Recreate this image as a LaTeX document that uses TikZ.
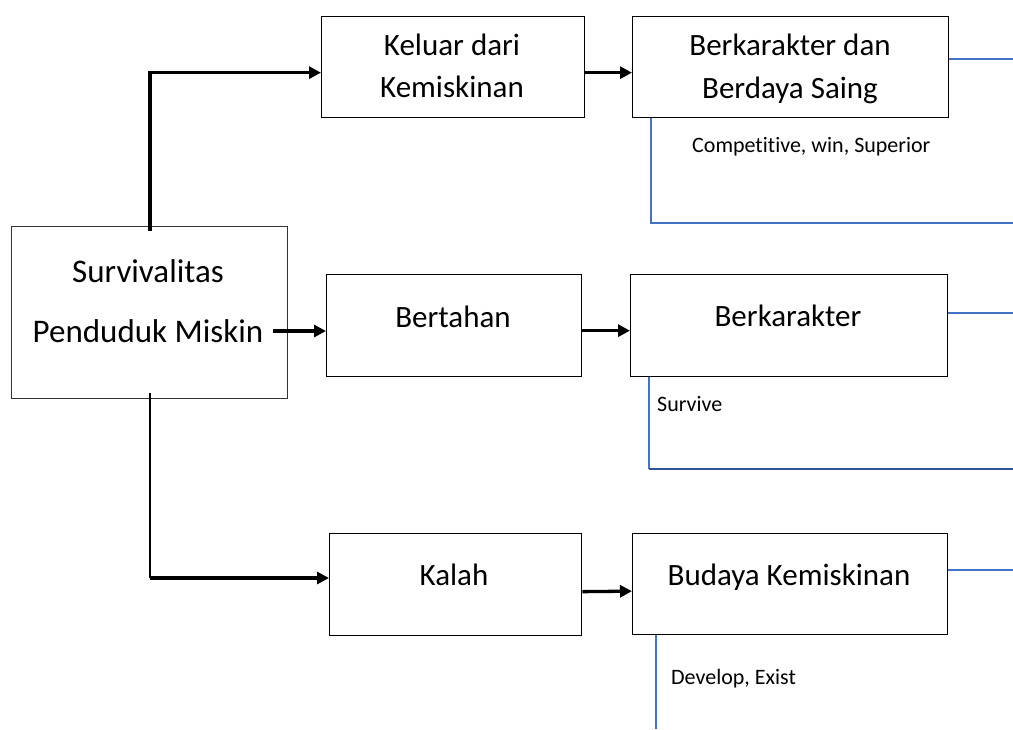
\documentclass[tikz,border=0pt]{standalone}
\usepackage{fontspec}
\setmainfont{Carlito}[Ligatures={NoCommon}]
\usetikzlibrary{arrows.meta}
\definecolor{lblue}{RGB}{68,114,196}
\definecolor{dblue}{RGB}{47,85,151}
\begin{document}
\begin{tikzpicture}[x=1pt,y=-1pt,
  box/.style={draw=black, line width=1.3pt, fill=white, inner sep=0pt, anchor=north west},
  big/.style={font=\fontsize{31}{37}\selectfont, anchor=base, inner sep=0pt},
  bigger/.style={font=\fontsize{33}{39}\selectfont, anchor=base, inner sep=0pt},
  small/.style={font=\fontsize{22}{26}\selectfont, anchor=base west, inner sep=0pt},
  flow/.style={line width=3.3pt, -{Triangle[length=12pt,width=12pt]}},
  thinline/.style={line width=1.5pt},
  bline/.style={draw=lblue, line width=1.3pt},
  bthick/.style={draw=dblue, line width=2pt}]
\useasboundingbox (0,0) rectangle (1013,729);
% blue brackets
\coordinate (e1) at (1013,59);
\coordinate (c1) at (651,117);
\coordinate (c2) at (1013,223);
\coordinate (e2) at (1013,313);
\coordinate (c3) at (649,376);
\coordinate (c4) at (1013,469);
\coordinate (e3) at (1013,570);
\coordinate (c5) at (656,634);
\coordinate (c6) at (656,729);
\draw[bline] (c1) |- (c2);
\draw[bline] (c3) -- (c3 |- c4);
\draw[bthick] (c3 |- c4) -- (c4);
\draw[bline] (c5) -- (c6);
% boxes
\node[box, draw=black!80, line width=1.1pt, minimum width=276pt, minimum height=172pt] (s) at (11,226) {};
\node[box, minimum width=263pt, minimum height=101pt] (k) at (321,16) {};
\node[box, minimum width=316pt, minimum height=101pt] (bd) at (632,16) {};
\node[box, minimum width=255pt, minimum height=102pt] (bt) at (326,274) {};
\node[box, minimum width=317pt, minimum height=102pt] (bk) at (630,274) {};
\node[box, minimum width=252pt, minimum height=102pt] (kl) at (329,533) {};
\node[box, minimum width=315pt, minimum height=101pt] (bu) at (632,533) {};
\draw[bline] (bd.east |- e1) -- (e1);
\draw[bline] (bk.east |- e2) -- (e2);
\draw[bline] (bu.east |- e3) -- (e3);
% texts
\node[bigger] (t1) at (148,282) {Survivalitas};
\node[bigger] (t2) at (148,342) {Penduduk Miskin};
\node[big] (t3) at (452,55) {Keluar dari};
\node[big] (t4) at (452,97) {Kemiskinan};
\node[big] (t5) at (790,55) {Berkarakter dan};
\node[big] (t6) at (790,98) {Berdaya Saing};
\node[big] (t7) at (453,327) {Bertahan};
\node[big] (t8) at (788,326) {Berkarakter};
\node[big] (t9) at (454,585) {Kalah};
\node[big] (t10) at (789,585) {Budaya Kemiskinan};
\node[small] (l1) at (692,152) {Competitive, win, Superior};
\node[small] (l2) at (657,411) {Survive};
\node[small] (l3) at (671,684) {Develop, Exist};
% arrows
\coordinate (s1) at (150,231);
\coordinate (s2) at (273,331);
\coordinate (s3) at (150,393);
\coordinate (s4) at (150,578);
\draw[flow] (s1) |- ([yshift=-5.5pt]k.west);
\draw[flow] ([yshift=-5.5pt]k.east) -- ([yshift=-5.5pt]bd.west);
\draw[flow] (s2) -- (s2 -| bt.west);
\draw[flow] ([yshift=-5pt]bt.east) -- ([yshift=-5pt]bk.west);
\draw[thinline] (s3) -- (s4);
\draw[flow] (s4) -- (s4 -| kl.west);
\draw[flow] ([yshift=-7pt]kl.east) -- ([yshift=-7pt]bu.west);
\end{tikzpicture}
\end{document}
